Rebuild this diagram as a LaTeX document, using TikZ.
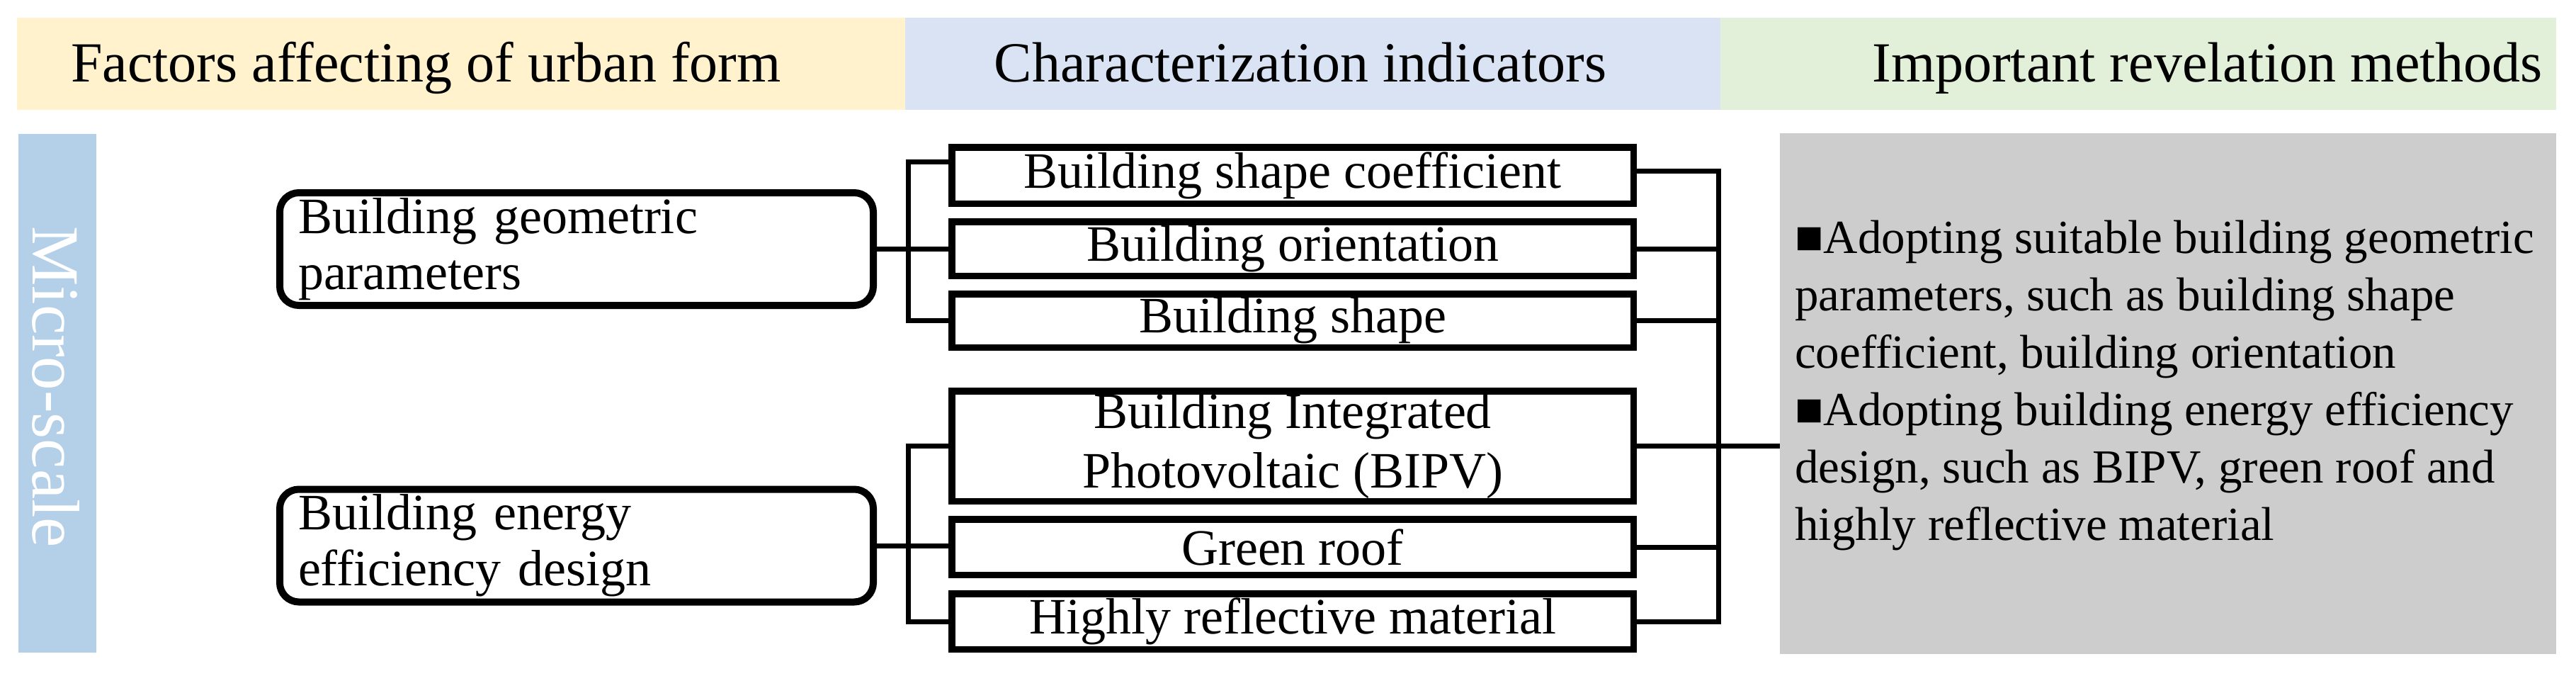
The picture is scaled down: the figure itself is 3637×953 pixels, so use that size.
\documentclass[tikz,border=0pt]{standalone}
\usepackage{fontspec}
\setmainfont{Liberation Serif}
\definecolor{hdryellow}{RGB}{255,242,204}
\definecolor{hdrblue}{RGB}{218,227,243}
\definecolor{hdrgreen}{RGB}{226,240,217}
\definecolor{microblue}{RGB}{180,208,232}
\definecolor{graybox}{RGB}{205,205,205}
\begin{document}
\begin{tikzpicture}[x=1pt,y=-1pt,
  band/.style={inner sep=0pt, outer sep=0pt, anchor=north west, minimum height=130pt},
  hdrtext/.style={inner sep=0pt, font=\fontsize{80}{96}\selectfont},
  catbox/.style={draw, line width=10pt, rounded corners=27pt, inner xsep=26pt, inner ysep=0pt,
    minimum width=838pt, minimum height=159pt, text width=786pt, align=left,
    font=\fontsize{72}{79}\selectfont},
  indbox/.style={draw, line width=9.5pt, inner sep=0pt, minimum width=962.5pt, align=center,
    font=\fontsize{72}{84}\selectfont},
  link/.style={line width=7pt},
]
\useasboundingbox (0,0) rectangle (3637,953);

% header bands
\node[band, fill=hdryellow, minimum width=1254pt] (hy) at (24,25) {};
\node[band, fill=hdrblue, minimum width=1151pt] (hb) at (1278,25) {};
\node[band, fill=hdrgreen, minimum width=1180pt] (hg) at (2429,25) {};
\node[hdrtext, anchor=base west] (ht1) at (100,115) {Factors affecting of urban form};
\node[hdrtext, anchor=base] (ht2) at (1836,115) {Characterization indicators};
\node[hdrtext, anchor=base east] (ht3) at (3590,115) {Important revelation methods};

% micro-scale bar
\node[fill=microblue, inner sep=0pt, outer sep=0pt, anchor=north west, minimum width=110pt, minimum height=732pt] (mb) at (26,189) {};
\node[rotate=-90, text=white, inner sep=0pt, font=\fontsize{95}{95}\selectfont] (mt) at (79,546) {Micro-scale};

% category boxes
\node[catbox] (R1) at (814,351.5) {Building geometric\\parameters};
\node[catbox] (R2) at (814,770) {Building energy\\efficiency design};

% indicator boxes
\node[indbox, minimum height=79.5pt] (A) at (1825,247.5) {Building shape coefficient};
\node[indbox, minimum height=76.5pt] (B) at (1825,351) {Building orientation};
\node[indbox, minimum height=75.5pt] (C) at (1825,452.5) {Building shape};
\node[indbox, minimum height=155.5pt] (D) at (1825,629.5) {Building Integrated\\Photovoltaic (BIPV)};
\node[indbox, minimum height=78.5pt] (E) at (1825,772) {Green roof};
\node[indbox, minimum height=78.5pt] (F) at (1825,877) {Highly reflective material};

% gray methods box
\node[fill=graybox, inner sep=0pt, outer sep=0pt, anchor=north west, minimum width=1096pt, minimum height=735pt] (G) at (2513,188) {};
\node[inner sep=0pt, anchor=north west, align=left, font=\fontsize{67}{81}\selectfont] (GT) at (2534,311)
  {■Adopting suitable building geometric\\parameters, such as building shape\\coefficient, building orientation\\■Adopting building energy efficiency\\design, such as BIPV, green roof and\\highly reflective material};

% connector helper coordinates
\coordinate (lv) at (1282,0);
\coordinate (rv) at (2426,0);

% left connectors
\draw[link] (R1.east) -- (R1.east -| B.west);
\draw[link] ([yshift=19pt]A.west) -- ([yshift=19pt]A.west -| lv) |- (C.west);
\draw[link] (R2.east) -- (R2.east -| E.west);
\draw[link] (D.west) -- (D.west -| lv) |- (F.west);

% right connectors
\draw[link] ([yshift=6pt]A.east) -- ([yshift=6pt]A.east -| rv) |- (F.east);
\draw[link] (B.east) -- (B.east -| rv);
\draw[link] (C.east) -- (C.east -| rv);
\draw[link] (E.east) -- (E.east -| rv);
\draw[link] (D.east) -- (D.east -| G.west);
\end{tikzpicture}
\end{document}
